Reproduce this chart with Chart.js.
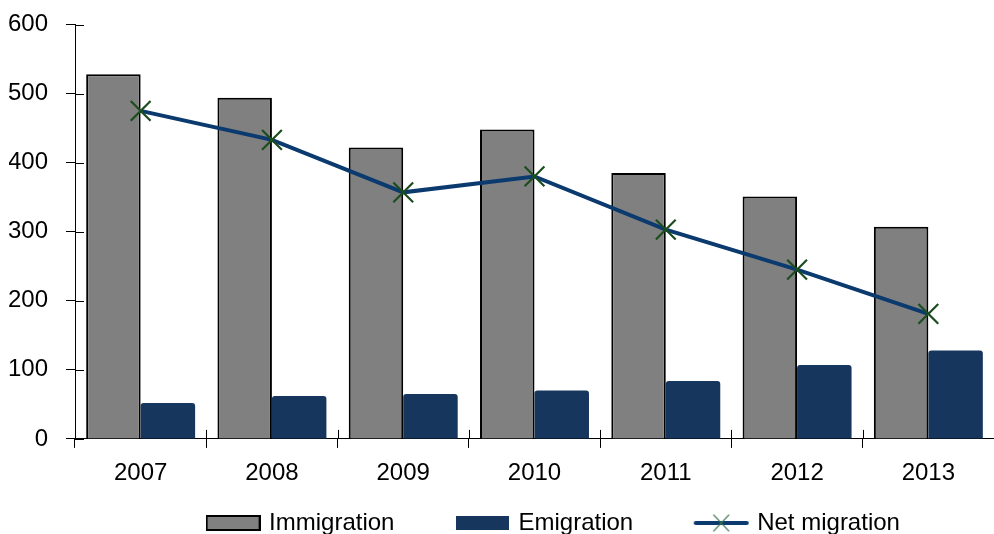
<!DOCTYPE html>
<html>
<head>
<meta charset="utf-8">
<script src="https://cdn.jsdelivr.net/npm/chart.js@4/dist/chart.umd.min.js"></script>
<style>
  html, body { margin: 0; padding: 0; background: #fff; }
  #wrap { width: 994px; height: 534px; }
</style>
</head>
<body>
<div id="wrap"><canvas id="canvas"></canvas></div>
<script>
const years = ['2007', '2008', '2009', '2010', '2011', '2012', '2013'];
const immigration = [528, 494, 422, 448, 385, 351, 307];
const emigration = [52, 62, 65, 70, 84, 107, 128];
const netMigration = [475, 433, 357, 380, 303, 245, 181];
const yTicks = [0, 100, 200, 300, 400, 500, 600];

const FONT = { family: 'Liberation Sans, Arial, sans-serif', size: 24 };
// extra room after each legend entry
const GAPS = { 'Immigration': '         ', 'Emigration': '         ', 'Net migration': '' };

// small canvases used as legend symbols
function boxIcon(fill, stroke) {
  const c = document.createElement('canvas');
  c.width = 55; c.height = 16;
  const g = c.getContext('2d');
  g.fillStyle = fill;
  g.fillRect(1, 1, 53, 14);
  if (stroke) {
    g.strokeStyle = stroke;
    g.lineWidth = 2;
    g.strokeRect(1, 1, 53, 14);
  }
  return c;
}
function lineIcon() {
  const c = document.createElement('canvas');
  c.width = 57; c.height = 20;
  const g = c.getContext('2d');
  g.strokeStyle = '#0b3a6e';
  g.lineWidth = 4;
  g.lineCap = 'round';
  g.beginPath(); g.moveTo(3, 10); g.lineTo(54, 10); g.stroke();
  g.strokeStyle = 'rgba(60,120,80,0.85)';
  g.lineWidth = 1.3;
  g.beginPath();
  g.moveTo(21, 2); g.lineTo(36, 18);
  g.moveTo(36, 2); g.lineTo(21, 18);
  g.stroke();
  return c;
}

// ticks in the reference cross the axis line, so draw the inner half too
const crossTicks = {
  id: 'crossTicks',
  afterDraw(chart) {
    const ctx = chart.ctx;
    const x = chart.scales.x, y = chart.scales.y;
    ctx.save();
    ctx.strokeStyle = '#000';
    ctx.lineWidth = 1;
    ctx.beginPath();
    yTicks.forEach(v => {
      const py = Math.round(y.getPixelForValue(v)) + 0.5;
      ctx.moveTo(x.left, py); ctx.lineTo(x.left + 9, py);
    });
    for (let i = 1; i < years.length; i++) {
      const px = Math.round(x.left + (x.right - x.left) * i / years.length) + 0.5;
      ctx.moveTo(px, y.bottom); ctx.lineTo(px, y.bottom - 9);
    }
    ctx.stroke();
    ctx.restore();
  }
};

// legend in the reference sits a bit right of centre
const legendShift = {
  id: 'legendShift',
  afterLayout(chart) {
    chart.legend.left += 20;
    chart.legend.right += 20;
  }
};

new Chart(document.getElementById('canvas'), {
  type: 'bar',
  data: {
    labels: years,
    datasets: [
      {
        type: 'line',
        label: 'Net migration',
        data: netMigration,
        borderColor: '#0b3a6e',
        borderWidth: 4,
        pointStyle: 'crossRot',
        pointRadius: 14,
        pointBorderColor: '#1b4d1e',
        pointBorderWidth: 2.2,
        fill: false,
        tension: 0,
        order: 0
      },
      {
        label: 'Immigration',
        data: immigration,
        backgroundColor: '#808080',
        borderColor: '#000',
        borderWidth: { top: 2, left: 2, right: 2, bottom: 0 },
        order: 1
      },
      {
        label: 'Emigration',
        data: emigration,
        backgroundColor: '#17365d',
        borderWidth: 0,
        borderRadius: { topLeft: 3, topRight: 3 },
        order: 1
      }
    ]
  },
  options: {
    responsive: true,
    maintainAspectRatio: false,
    animation: false,
    layout: { autoPadding: false, padding: { left: 9, right: 0, top: 24.5, bottom: -11 } },
    datasets: {
      bar: { categoryPercentage: 0.83, barPercentage: 1.0 }
    },
    plugins: {
      tooltip: { enabled: false },
      legend: {
        position: 'bottom',
        fullSize: false,
        labels: {
          font: FONT,
          color: '#000',
          usePointStyle: true,
          pointStyleWidth: 48,
          boxHeight: 14,
          padding: 4,
          generateLabels(chart) {
            const items = Chart.defaults.plugins.legend.labels.generateLabels(chart);
            const icons = {
              'Immigration': boxIcon('#808080', '#000'),
              'Emigration': boxIcon('#17365d'),
              'Net migration': lineIcon()
            };
            const order = ['Immigration', 'Emigration', 'Net migration'];
            items.sort((a, b) => order.indexOf(a.text) - order.indexOf(b.text));
            items.forEach(it => {
              it.pointStyle = icons[it.text];
              it.text += GAPS[it.text];
            });
            return items;
          }
        }
      }
    },
    scales: {
      x: {
        grid: { display: true, drawOnChartArea: false, offset: true, tickLength: 9, color: '#000', tickColor: '#000' },
        border: { color: '#000', width: 1 },
        ticks: { font: FONT, color: '#000', padding: 11 },
        afterFit(scale) {
          scale.paddingLeft = 0;
          scale.paddingRight = 0;
          scale.height += 8.3;
        }
      },
      y: {
        min: 0,
        max: 600,
        afterBuildTicks(scale) { scale.ticks = yTicks.map(v => ({ value: v })); },
        grid: { drawOnChartArea: false, tickLength: 9, color: '#000', tickColor: '#000' },
        border: { color: '#000', width: 1 },
        ticks: { font: FONT, color: '#000', padding: 18 },
        afterFit(scale) {
          scale.width = 66;
          scale.paddingTop = 0;
          scale.paddingBottom = 0;
        }
      }
    }
  },
  plugins: [crossTicks, legendShift]
});
</script>
</body>
</html>
